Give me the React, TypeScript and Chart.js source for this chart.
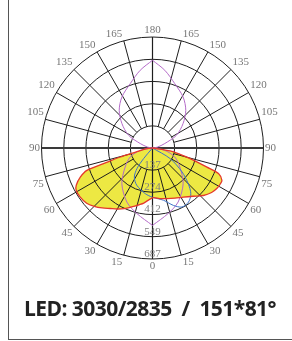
import React, { useEffect, useRef } from "react";
import { Chart, registerables } from "chart.js";

Chart.register(...registerables);

const MAX_CD = 687;
const ringValues = [137, 274, 412, 549, 687];
const ringLabels = ["137", "274", "412", "549", "687"];
const angleTicks = [0, 15, 30, 45, 60, 75, 90, 105, 120, 135, 150, 165, 180];

// gamma angle in degrees, 0 = down, negative = left side
const yellowAngles = [-90, -85, -80, -77, -75.7, -74.4, -72.3, -71.2, -68, -64, -61, -56, -50, -45, -40, -35, -30, -25, -18, -9, 0, 8, 16, 24, 32, 40, 47, 53, 58, 62, 65, 68.8, 70.7, 74.3, 77, 80.4, 90];
const yellowValues = [0, 25, 63, 95, 128, 207, 318, 429, 482, 525, 540, 541, 532, 510, 484, 457, 436, 414, 380, 345, 308, 316, 326, 340, 359, 390, 431, 458, 471, 475, 474, 438, 357, 242, 175, 111, 0];

const blueAngles = [-44, -40, -37, -32, -23, -9, 0, 12, 20, 26.5, 33.7, 40, 45, 51, 59, 65];
const blueValues = [0, 86, 160, 212, 250, 286, 305, 331, 378, 408, 402, 369, 313, 235, 128, 0];

// purple, symmetric about the vertical axis
const purpleLowerAngles = [0, 13.4, 25.4, 40.7, 55.2, 68, 79, 90];
const purpleLowerValues = [479, 417, 370, 291, 206, 149, 77, 0];
const purpleUpperAngles = [180, 171, 161, 149, 138.5, 128.6, 118, 110, 100, 90];
const purpleUpperValues = [543, 487, 422, 368, 311, 242, 168, 81, 30, 0];

const YELLOW = "#ede843";
const RED = "#e5392c";
const BLUE = "#3f73c8";
const PURPLE = "#b46ac8";

const toXY = (g: number, v: number) => {
  const r = (g * Math.PI) / 180;
  return { x: v * Math.sin(r), y: -v * Math.cos(r) };
};

const pts = (angles: number[], values: number[], sign = 1) =>
  angles.map((a, i) => toXY(a * sign, values[i]));

const polarGrid = {
  id: "polarGrid",
  afterDatasetDraw(chart: any, args: any) {
    if (args.index !== 0) return;
    const ctx = chart.ctx as CanvasRenderingContext2D;
    const xs = chart.scales.x;
    const ys = chart.scales.y;
    const cx = xs.getPixelForValue(0);
    const cy = ys.getPixelForValue(0);
    const px = (g: number, v: number) => {
      const p = toXY(g, v);
      return { x: xs.getPixelForValue(p.x), y: ys.getPixelForValue(p.y) };
    };
    const rad = (v: number) => xs.getPixelForValue(v) - cx;
    ctx.save();
    ctx.strokeStyle = "#1e1e1e";
    ctx.lineWidth = 1;
    ringValues.forEach((v) => {
      ctx.beginPath();
      ctx.arc(cx, cy, rad(v), 0, Math.PI * 2);
      ctx.stroke();
    });
    const inner = ringValues[0];
    for (let g = 15; g < 180; g += 15) {
      if (g === 90) continue;
      [1, -1].forEach((s) => {
        const a = px(g * s, inner);
        const b = px(g * s, MAX_CD);
        ctx.beginPath();
        ctx.moveTo(a.x, a.y);
        ctx.lineTo(b.x, b.y);
        ctx.stroke();
      });
    }
    // vertical axis
    ctx.lineWidth = 1.2;
    ctx.strokeStyle = "#1e1e1e";
    const top = px(180, MAX_CD);
    const bot = px(0, MAX_CD);
    ctx.beginPath();
    ctx.moveTo(top.x, top.y);
    ctx.lineTo(bot.x, bot.y);
    ctx.stroke();
    // horizontal axis
    ctx.lineWidth = 2;
    ctx.strokeStyle = "#3a3a3a";
    const l = px(-90, MAX_CD);
    const r = px(90, MAX_CD);
    ctx.beginPath();
    ctx.moveTo(l.x, l.y);
    ctx.lineTo(r.x, r.y);
    ctx.stroke();

    // angle labels
    ctx.font = "11px 'Liberation Serif', 'DejaVu Serif', serif";
    ctx.fillStyle = "#777";
    ctx.textBaseline = "middle";
    angleTicks.forEach((g) => {
      const sides = g === 0 || g === 180 ? [1] : [-1, 1];
      sides.forEach((s) => {
        const e = px(g * s, MAX_CD);
        let x = e.x;
        let y = e.y;
        if (g === 0 || g === 180) {
          ctx.textAlign = "center";
          y += g === 0 ? 7 : -7;
        } else {
          ctx.textAlign = s < 0 ? "right" : "left";
          x += s < 0 ? -1.5 : 1.5;
          if (g < 90) y += 7;
          else if (g > 90) y -= 7;
        }
        ctx.fillText(String(g), x, y);
      });
    });
    // ring value labels
    ctx.fillStyle = "#808080";
    ctx.textAlign = "center";
    ringValues.forEach((v, i) => {
      const p = px(0, v);
      ctx.fillText(ringLabels[i], p.x, p.y - 5);
    });
    ctx.restore();
  },
};

export default function App() {
  const ref = useRef<HTMLCanvasElement | null>(null);
  useEffect(() => {
    document.documentElement.style.overflow = "hidden";
    document.body.style.overflow = "hidden";
    if (!ref.current) return;
    const line = (data: any[], color: string, width = 1) => ({
      data,
      showLine: true,
      borderColor: color,
      borderWidth: width,
      pointRadius: 0,
      fill: false,
      tension: 0.3,
      order: 0,
    });
    const yellowPts = pts(yellowAngles, yellowValues);
    const chart = new Chart(ref.current, {
      type: "scatter",
      data: {
        datasets: [
          {
            data: yellowPts,
            showLine: true,
            borderWidth: 0,
            borderColor: "rgba(0,0,0,0)",
            backgroundColor: YELLOW,
            pointRadius: 0,
            fill: "shape",
            tension: 0.3,
            order: 10,
          } as any,
          line(yellowPts, RED, 1.3),
          line(pts(blueAngles, blueValues), BLUE, 1),
          line(pts(purpleLowerAngles, purpleLowerValues, -1), PURPLE, 1),
          line(pts(purpleLowerAngles, purpleLowerValues, 1), PURPLE, 1),
          line(pts(purpleUpperAngles, purpleUpperValues, -1), PURPLE, 1),
          line(pts(purpleUpperAngles, purpleUpperValues, 1), PURPLE, 1),
        ],
      },
      options: {
        animation: false,
        responsive: false,
        maintainAspectRatio: false,
        events: [],
        layout: { padding: { left: 41.5, right: 28.5, top: 37, bottom: 41 } },
        scales: {
          x: { type: "linear", min: -MAX_CD, max: MAX_CD, display: false },
          y: { type: "linear", min: -MAX_CD, max: MAX_CD, display: false },
        },
        plugins: {
          legend: { display: false },
          tooltip: { enabled: false },
        },
      },
      plugins: [polarGrid],
    });
    return () => chart.destroy();
  }, []);

  return (
    <div
      style={{
        position: "fixed",
        left: 0,
        top: 0,
        width: 292,
        height: 341,
        background: "#fff",
        overflow: "hidden",
      }}
    >
      <canvas
        ref={ref}
        width={292}
        height={300}
        style={{ position: "absolute", left: 0, top: 0, width: 292, height: 300 }}
      />
      <div style={{ position: "absolute", left: 8, top: 0, width: 1, height: 340, background: "#555" }} />
      <div style={{ position: "absolute", left: 8, top: 339, width: 284, height: 1, background: "#555" }} />
      <div
        style={{
          position: "absolute",
          left: 15,
          top: 298,
          width: 270,
          textAlign: "center",
          fontFamily: "'Open Sans', sans-serif",
          fontWeight: 700,
          fontSize: 21,
          lineHeight: "21px",
          letterSpacing: "-0.55px",
          color: "#222",
          whiteSpace: "pre",
        }}
      >
        {"LED: 3030/2835  /  151*81°"}
      </div>
    </div>
  );
}
